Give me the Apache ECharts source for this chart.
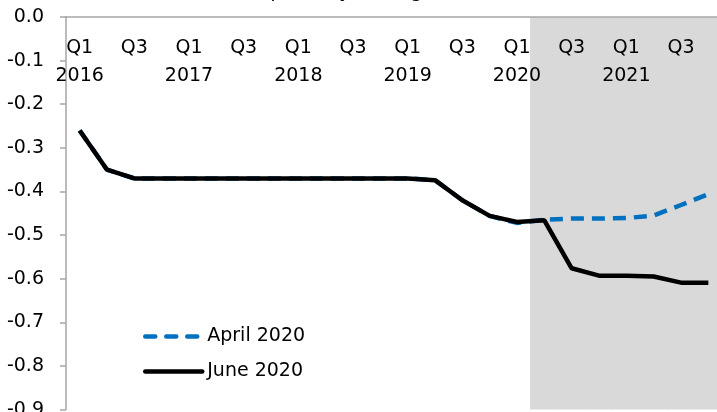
<!DOCTYPE html>
<html>
<head>
<meta charset="utf-8">
<script src="https://cdn.jsdelivr.net/npm/echarts@6/dist/echarts.min.js"></script>
<style>
  html, body { margin: 0; padding: 0; background: #fff; }
  #chart { width: 717px; height: 412px; }
</style>
</head>
<body>
<div id="chart"></div>
<script>
// quarters Q1 2016 .. Q4 2021
const years = ['2016', '2017', '2018', '2019', '2020', '2021']
const quarters = ['Q1', 'Q2', 'Q3', 'Q4']
const categories = []
years.forEach(y => quarters.forEach(q => categories.push(q + ' ' + y)))

const aprilValues = [
  -0.26, -0.35, -0.37, -0.37,
  -0.37, -0.37, -0.37, -0.37,
  -0.37, -0.37, -0.37, -0.37,
  -0.37, -0.374, -0.42, -0.456,
  -0.472, -0.465, -0.462, -0.462,
  -0.461, -0.455, -0.431, -0.406
]
const juneValues = [
  -0.26, -0.35, -0.37, -0.37,
  -0.37, -0.37, -0.37, -0.37,
  -0.37, -0.37, -0.37, -0.37,
  -0.37, -0.374, -0.42, -0.456,
  -0.47, -0.466, -0.576, -0.593,
  -0.593, -0.595, -0.609, -0.609
]
const yTicks = { min: -0.9, max: 0, interval: 0.1 }
// projection period starts at Q2 2020
const shadeStart = categories.indexOf('Q2 2020')
const shadeValues = categories.map((c, i) => (i >= shadeStart ? yTicks.min : null))

const font = 'DejaVu Sans'
const axisGrey = '#a6a6a6'
const blue = '#0070c0'
const shade = '#d9d9d9'

const chart = echarts.init(document.getElementById('chart'), null, { renderer: 'canvas' })

chart.setOption({
  animation: false,
  backgroundColor: '#fff',
  textStyle: { fontFamily: font, color: '#000' },
  graphic: [{
    type: 'text',
    left: 256,
    top: -17.5,
    style: { text: '(quarterly average, in %)', font: '19px "DejaVu Sans"', fill: '#000' }
  }],
  grid: { left: 66, top: 17, width: 656, height: 392.6, containLabel: false, outerBoundsMode: 'none' },
  legend: {
    orient: 'vertical',
    left: 138,
    top: 322,
    itemWidth: 57,
    itemHeight: 4,
    itemGap: 16,
    textStyle: { fontFamily: font, fontSize: 19, color: '#000' },
    data: [
      { name: 'April 2020', lineStyle: { color: blue, width: 4.5, type: [10, 11], cap: 'round' } },
      { name: 'June 2020', lineStyle: { color: '#000', width: 4.5, cap: 'round' } }
    ]
  },
  xAxis: [
    {
      type: 'category',
      position: 'top',
      data: categories,
      z: 10,
      axisLine: { onZero: false, lineStyle: { color: axisGrey, width: 1.5 } },
      axisTick: { inside: true, length: 8, interval: 0, lineStyle: { color: axisGrey, width: 1.5 } },
      axisLabel: {
        inside: true,
        margin: 17,
        interval: 1,
        verticalAlign: 'top',
        lineHeight: 28,
        fontFamily: font,
        fontSize: 19,
        color: '#000',
        formatter: v => {
          const [q, y] = v.split(' ')
          return q === 'Q1' ? q + '\n' + y : q
        }
      },
      splitLine: { show: false }
    },
    {
      type: 'category',
      position: 'top',
      data: categories,
      z: 10,
      axisLine: { show: false, onZero: false },
      axisTick: { length: 5, interval: 0, lineStyle: { color: axisGrey, width: 1.5 } },
      axisLabel: { show: false },
      splitLine: { show: false }
    }
  ],
  yAxis: {
    type: 'value',
    min: yTicks.min,
    max: yTicks.max,
    interval: yTicks.interval,
    z: 10,
    axisLine: { show: true, lineStyle: { color: axisGrey, width: 1.5 } },
    axisTick: { show: true, length: 6, lineStyle: { color: axisGrey, width: 1.5 } },
    axisLabel: {
      margin: 22,
      fontFamily: font,
      fontSize: 19,
      color: '#000',
      formatter: v => v.toFixed(1)
    },
    splitLine: { show: false }
  },
  series: [
    {
      name: 'shade',
      type: 'bar',
      data: shadeValues,
      barWidth: '104%',
      barCategoryGap: 0,
      silent: true,
      z: 1,
      itemStyle: { color: shade }
    },
    {
      name: 'April 2020',
      type: 'line',
      data: aprilValues,
      symbol: 'none',
      z: 3,
      color: blue,
      lineStyle: { color: blue, width: 4.5, type: [13, 8] }
    },
    {
      name: 'June 2020',
      type: 'line',
      data: juneValues,
      symbol: 'none',
      z: 4,
      color: '#000',
      lineStyle: { color: '#000', width: 4.5 }
    }
  ]
})
</script>
</body>
</html>
